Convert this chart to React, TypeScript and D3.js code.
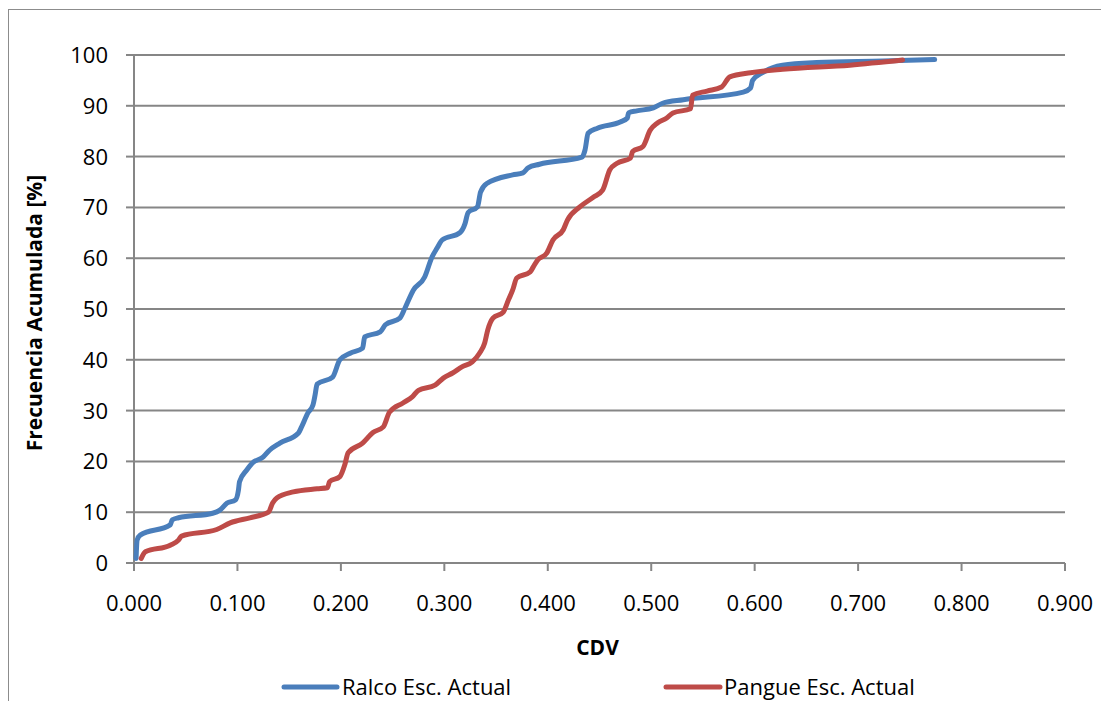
import React from "react";
import * as d3 from "d3";

// Cumulative frequency curves (CDV value, cumulative %)
const ralcoCdv = [0.002, 0.003, 0.006, 0.035, 0.037, 0.043, 0.076, 0.083, 0.09, 0.098, 0.101, 0.102, 0.109, 0.114, 0.125, 0.131, 0.141, 0.159, 0.162, 0.168, 0.173, 0.175, 0.177, 0.192, 0.199, 0.209, 0.221, 0.223, 0.238, 0.243, 0.257, 0.262, 0.27, 0.281, 0.288, 0.293, 0.298, 0.315, 0.32, 0.323, 0.332, 0.335, 0.341, 0.366, 0.376, 0.381, 0.392, 0.433, 0.436, 0.439, 0.448, 0.47, 0.477, 0.478, 0.486, 0.502, 0.511, 0.531, 0.589, 0.596, 0.598, 0.608, 0.627, 0.66, 0.724, 0.774];
const ralcoFreq = [0.9, 4.5, 5.5, 7.5, 8.5, 8.9, 9.8, 10.4, 11.8, 12.4, 14.4, 16, 18.3, 19.6, 20.9, 22.2, 23.6, 25.6, 26.8, 29.5, 31.1, 33, 35.2, 36.6, 40, 41.3, 42.3, 44.5, 45.5, 46.9, 48.2, 50.2, 53.7, 56.3, 60.2, 62, 63.6, 65, 66.8, 69, 70.1, 73, 74.7, 76.4, 76.8, 77.8, 78.5, 79.9, 81.3, 84.6, 85.6, 86.8, 87.6, 88.6, 89, 89.6, 90.5, 91.2, 92.7, 93.5, 95, 96.6, 98, 98.5, 98.8, 99.1];

const pangueCdv = [0.007, 0.011, 0.035, 0.043, 0.046, 0.08, 0.093, 0.112, 0.13, 0.134, 0.138, 0.154, 0.177, 0.187, 0.189, 0.199, 0.204, 0.207, 0.221, 0.231, 0.241, 0.247, 0.26, 0.269, 0.275, 0.291, 0.299, 0.308, 0.317, 0.327, 0.334, 0.339, 0.342, 0.347, 0.357, 0.362, 0.366, 0.37, 0.383, 0.386, 0.39, 0.399, 0.405, 0.415, 0.419, 0.431, 0.444, 0.453, 0.46, 0.467, 0.48, 0.482, 0.492, 0.499, 0.506, 0.515, 0.521, 0.538, 0.54, 0.554, 0.568, 0.576, 0.596, 0.627, 0.692, 0.743];
const pangueFreq = [0.9, 2.2, 3.5, 4.5, 5.3, 6.6, 7.9, 8.9, 10, 11.8, 12.8, 14, 14.6, 14.8, 16, 17, 19.5, 21.7, 23.6, 25.7, 26.8, 29.7, 31.5, 32.7, 34, 35, 36.4, 37.4, 38.6, 39.6, 41.3, 43.3, 45.9, 48.2, 49.4, 51.8, 53.7, 56.1, 57.3, 58.3, 59.6, 61, 63.6, 65.6, 67.5, 70.1, 72, 73.4, 77.4, 78.7, 79.7, 81, 82, 85.2, 86.6, 87.6, 88.6, 89.4, 92.1, 92.9, 93.7, 95.7, 96.5, 97.2, 98, 99];

const xTicks = [0, 0.1, 0.2, 0.3, 0.4, 0.5, 0.6, 0.7, 0.8, 0.9];
const yTicks = [0, 10, 20, 30, 40, 50, 60, 70, 80, 90, 100];

const seriesNames = ["Ralco Esc. Actual", "Pangue Esc. Actual"];
const seriesColors = ["#4a7ebb", "#be4b48"];

const W = 1101;
const H = 693;
const left = 126;
const right = 1057;
const top = 47;
const bottom = 555;
const font = "'Open Sans', 'Noto Sans', sans-serif";
const gridColor = "#868686";

export default function App() {
  const x = d3.scaleLinear().domain([0, 0.9]).range([left, right]);
  const y = d3.scaleLinear().domain([0, 100]).range([bottom, top]);

  const line = d3
    .line<[number, number]>()
    .x((d) => x(d[0]))
    .y((d) => y(d[1]))
    .curve(d3.curveMonotoneX);

  const series = [
    ralcoCdv.map((v, i) => [v, ralcoFreq[i]] as [number, number]),
    pangueCdv.map((v, i) => [v, pangueFreq[i]] as [number, number]),
  ];

  const legendItems = [
    { x0: 276, x1: 329, tx: 334 },
    { x0: 658, x1: 712, tx: 716 },
  ];

  return (
    <svg width={W} height={H} style={{ display: "block" }} fontFamily={font}>
      <rect x={0} y={0} width={W} height={H} fill="#fff" />
      <rect x={0.5} y={1.5} width={W + 200} height={H + 200} fill="none" stroke="#8c8c8c" strokeWidth={1} />

      {/* horizontal gridlines */}
      {yTicks.map((t) => (
        <line key={"g" + t} x1={left} x2={right} y1={y(t)} y2={y(t)} stroke={gridColor} strokeWidth={2} />
      ))}

      {/* axes */}
      <line x1={left} x2={left} y1={top} y2={bottom} stroke={gridColor} strokeWidth={2} />
      <line x1={left} x2={right} y1={bottom} y2={bottom} stroke={gridColor} strokeWidth={2} />
      {yTicks.map((t) => (
        <line key={"yt" + t} x1={left - 8} x2={left} y1={y(t)} y2={y(t)} stroke={gridColor} strokeWidth={2} />
      ))}
      {xTicks.map((t) => (
        <line key={"xt" + t} x1={x(t)} x2={x(t)} y1={bottom} y2={bottom + 8} stroke={gridColor} strokeWidth={2} />
      ))}

      {/* tick labels */}
      {yTicks.map((t) => (
        <text key={"yl" + t} x={100} y={y(t) + 8} textAnchor="end" fontSize={22} fill="#000">
          {t}
        </text>
      ))}
      {xTicks.map((t) => (
        <text key={"xl" + t} x={x(t)} y={603} textAnchor="middle" fontSize={22} fill="#000">
          {d3.format(".3f")(t)}
        </text>
      ))}

      {/* axis titles */}
      <text
        transform={`translate(34,${(top + bottom) / 2 + 4}) rotate(-90)`}
        textAnchor="middle"
        fontSize={21}
        fontWeight="bold"
        fill="#000"
      >
        Frecuencia Acumulada [%]
      </text>
      <text x={(left + right) / 2 - 2} y={647} textAnchor="middle" fontSize={21} fontWeight="bold" fill="#000">
        CDV
      </text>

      {/* series */}
      {series.map((s, i) => (
        <path
          key={"s" + i}
          d={line(s) || ""}
          fill="none"
          stroke={seriesColors[i]}
          strokeWidth={5}
          strokeLinecap="round"
          strokeLinejoin="round"
        />
      ))}

      {/* legend */}
      {legendItems.map((l, i) => (
        <g key={"lg" + i}>
          <line x1={l.x0} x2={l.x1} y1={679} y2={679} stroke={seriesColors[i]} strokeWidth={5} strokeLinecap="round" />
          <text x={l.tx} y={687} fontSize={22} fill="#000">
            {seriesNames[i]}
          </text>
        </g>
      ))}
    </svg>
  );
}
